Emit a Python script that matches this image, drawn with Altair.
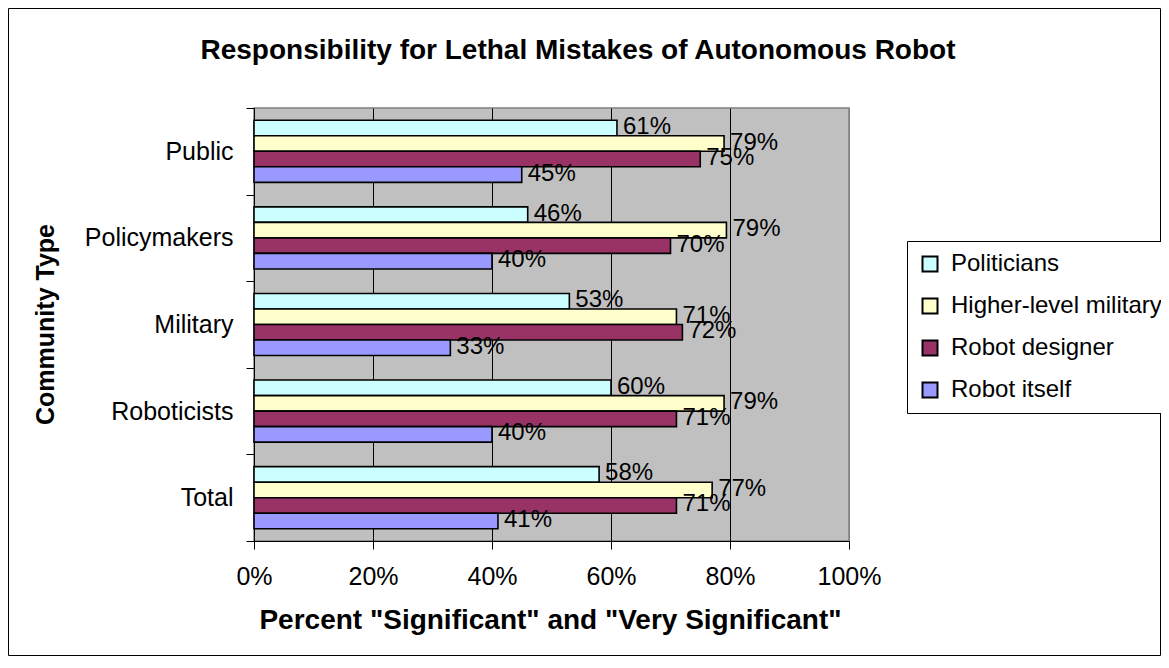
import altair as alt
import pandas as pd

title_text = "Responsibility for Lethal Mistakes of Autonomous Robot"
communities = ["Public", "Policymakers", "Military", "Roboticists", "Total"]
series = ["Politicians", "Higher-level military", "Robot designer", "Robot itself"]
politicians = [61, 46, 53, 60, 58]
higher_military = [79, 79.4, 71, 79, 77]
robot_designer = [75, 70, 72, 71, 71]
robot_itself = [45, 40, 33, 40, 41]
colors = ["#CCFFFF", "#FFFFCC", "#993366", "#9999FF"]
x_ticks = [0, 0.2, 0.4, 0.6, 0.8, 1.0]

rows = []
for s, vals in zip(series, [politicians, higher_military, robot_designer, robot_itself]):
    for c, v in zip(communities, vals):
        rows.append({"community": c, "series": s, "value": v / 100.0})
df = pd.DataFrame(rows)

FONT = "Liberation Sans"
W, H = 595, 433
PAD = {"left": 246, "top": 100, "right": 312, "bottom": 115}

y_enc = alt.Y(
    "community:N",
    sort=communities,
    scale=alt.Scale(paddingInner=0, paddingOuter=0),
    axis=alt.Axis(
        title="Community Type",
        titleFontSize=25,
        titleFontWeight="bold",
        titleColor="black",
        titleAngle=-90,
        titleX=-209,
        titleY=216,
        titleBaseline="middle",
        titleAlign="center",
        labelFontSize=25,
        labelColor="black",
        labelPadding=13,
        tickSize=8,
        tickColor="black",
        tickBand="extent",
        domainColor="black",
        domainWidth=1,
        grid=False,
    ),
)
yoff_enc = alt.YOffset(
    "series:N", sort=series, scale=alt.Scale(paddingInner=0, paddingOuter=0.79)
)
x_enc = alt.X(
    "value:Q",
    scale=alt.Scale(domain=[0, 1], nice=False),
    axis=alt.Axis(
        values=x_ticks,
        format=".0%",
        title='Percent "Significant" and "Very Significant"',
        titleFontSize=28,
        titleFontWeight="bold",
        titleColor="black",
        titleX=296,
        titleY=79,
        titleBaseline="middle",
        labelFontSize=25,
        labelColor="black",
        labelPadding=15,
        labelFlush=False,
        tickSize=8,
        tickColor="black",
        domainColor="black",
        domainWidth=1,
        grid=True,
        gridColor={"condition": {"test": "datum.value === 1", "value": "#808080"}, "value": "black"},
        gridWidth=1,
    ),
)

bars = alt.Chart(df).mark_bar(stroke="black", strokeWidth=1.6).encode(
    x=x_enc,
    y=y_enc,
    yOffset=yoff_enc,
    color=alt.Color(
        "series:N",
        sort=series,
        scale=alt.Scale(domain=series, range=colors),
        legend=alt.Legend(
            title=None,
            orient="none",
            legendX=653,
            legendY=133,
            symbolType="square",
            symbolSize=225,
            symbolStrokeColor="black",
            symbolStrokeWidth=2,
            labelFontSize=24,
            labelColor="black",
            labelOffset=9,
            labelLimit=400,
            rowPadding=18,
            padding=11,
            fillColor="white",
            strokeColor="black",
        ),
    ),
)

labels = alt.Chart(df).mark_text(
    align="left", baseline="middle", dx=6, dy=-1, fontSize=24, color="black"
).encode(
    x="value:Q",
    y=alt.Y("community:N", sort=communities),
    yOffset=alt.YOffset("series:N", sort=series),
    text=alt.Text("value:Q", format=".0%"),
)

border = alt.Chart(alt.Data(values=[{}])).mark_rect(
    filled=False, stroke="black", strokeWidth=1
).encode(
    x=alt.value(-PAD["left"] + 0.5),
    x2=alt.value(W + PAD["right"] - 0.5),
    y=alt.value(-PAD["top"] + 0.5),
    y2=alt.value(H + PAD["bottom"] - 0.5),
)

title = alt.Chart(alt.Data(values=[{"t": title_text}])).mark_text(
    align="center", baseline="alphabetic", fontSize=28, fontWeight="bold", color="black"
).encode(
    x=alt.value(324),
    y=alt.value(-49),
    text="t:N",
)

chart = (
    alt.layer(border, bars, labels, title)
    .properties(
        width=W,
        height=H,
        autosize=alt.AutoSizeParams(type="none"),
        padding=PAD,
        background="white",
    )
    .configure(font=FONT)
    .configure_view(fill="#C0C0C0", stroke="#808080", strokeWidth=1.5)
)

chart.save("out.html", embed_options={"renderer": "svg", "actions": False})
